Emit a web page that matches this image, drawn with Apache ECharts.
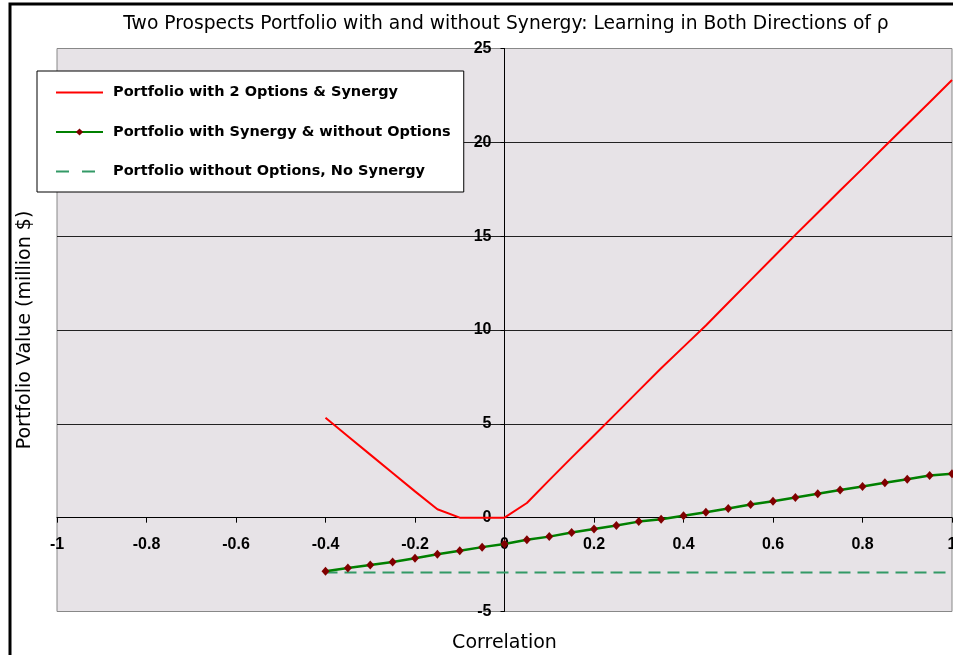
<!DOCTYPE html>
<html>
<head>
<meta charset="utf-8">
<script src="https://cdn.jsdelivr.net/npm/echarts@6/dist/echarts.min.js"></script>
<style>
  html, body { margin: 0; padding: 0; background: #fff; }
  #chart { width: 953px; height: 655px; }
</style>
</head>
<body>
<div id="chart"></div>
<script>
// Correlation coefficient (rho) grid
const correlation = [-0.4, -0.35, -0.3, -0.25, -0.2, -0.15, -0.1, -0.05, 0,
  0.05, 0.1, 0.15, 0.2, 0.25, 0.3, 0.35, 0.4, 0.45, 0.5,
  0.55, 0.6, 0.65, 0.7, 0.75, 0.8, 0.85, 0.9, 0.95, 1.0];

// Portfolio values, million $
const withOptionsSynergy = [5.32, 4.34, 3.36, 2.38, 1.40, 0.45, 0.0, 0.0, 0.0,
  0.78, 2.0, 3.2, 4.38, 5.57, 6.77, 7.96, 9.1, 10.24, 11.45,
  12.66, 13.86, 15.07, 16.25, 17.43, 18.6, 19.79, 20.96, 22.14, 23.32];

const synergyNoOptions = [-2.85, -2.68, -2.52, -2.36, -2.16, -1.95, -1.76, -1.57, -1.40,
  -1.18, -1.01, -0.79, -0.60, -0.42, -0.21, -0.08, 0.10, 0.29, 0.49,
  0.70, 0.88, 1.07, 1.27, 1.47, 1.66, 1.86, 2.05, 2.25, 2.34];

const noOptionsNoSynergy = [-2.92, -2.92, -2.92, -2.92, -2.92, -2.92, -2.92, -2.92, -2.92,
  -2.92, -2.92, -2.92, -2.92, -2.92, -2.92, -2.92, -2.92, -2.92, -2.92,
  -2.92, -2.92, -2.92, -2.92, -2.92, -2.92, -2.92, -2.92, -2.92, -2.92];

const seriesNames = [
  'Portfolio with 2 Options & Synergy',
  'Portfolio with Synergy & without Options',
  'Portfolio without Options, No Synergy'
];

const xTicks = { min: -1, max: 1, interval: 0.2 };
const yTicks = { min: -5, max: 25, interval: 5 };

const pairs = (ys) => correlation.map((x, i) => [x, ys[i]]);

// Plot rectangle
const GRID = { left: 57, top: 48.5, width: 895, height: 563 };

// The axes cross at the origin: shift each axis from the grid edge to the zero line.
const xAxisOffset = -(0 - yTicks.min) / (yTicks.max - yTicks.min) * GRID.height;
const yAxisOffset = -(0 - xTicks.min) / (xTicks.max - xTicks.min) * GRID.width;

const SANS = '"Liberation Sans", Arial, sans-serif';
const WIDE = '"DejaVu Sans", Verdana, sans-serif';

const chart = echarts.init(document.getElementById('chart'), null, { renderer: 'canvas' });

chart.setOption({
  backgroundColor: '#ffffff',
  animation: false,
  title: {
    text: 'Two Prospects Portfolio with and without Synergy: Learning in Both Directions of \u03C1',
    left: 501,
    top: 10,
    textAlign: 'center',
    textStyle: { fontFamily: WIDE, fontSize: 18.7, fontWeight: 'normal', color: '#000' }
  },
  graphic: [{
    type: 'rect',
    silent: true,
    z: 100,
    shape: { x: 10, y: 4, width: 1000, height: 700 },
    style: { fill: 'none', stroke: '#000', lineWidth: 3 }
  }],
  legend: {
    orient: 'vertical',
    left: 37,
    top: 71,
    backgroundColor: '#ffffff',
    borderColor: '#000',
    borderWidth: 1,
    padding: [14, 13, 13, 18],
    itemWidth: 47,
    itemHeight: 9,
    itemGap: 24.5,
    textStyle: { fontFamily: WIDE, fontSize: 14.5, fontWeight: 'bold', color: '#000', padding: [0, 0, 0, 5] },
    data: [
      { name: seriesNames[0], itemStyle: { opacity: 0 } },
      { name: seriesNames[1] },
      { name: seriesNames[2], itemStyle: { opacity: 0 }, lineStyle: { type: [13, 13] } }
    ]
  },
  grid: {
    left: GRID.left,
    top: GRID.top,
    width: GRID.width,
    height: GRID.height,
    outerBoundsMode: 'none',
    containLabel: false,
    show: true,
    backgroundColor: '#e7e3e7',
    borderColor: '#888888',
    borderWidth: 1
  },
  xAxis: {
    type: 'value',
    min: xTicks.min,
    max: xTicks.max,
    interval: xTicks.interval,
    offset: xAxisOffset,
    name: 'Correlation',
    nameLocation: 'middle',
    nameGap: 116,
    nameTextStyle: { fontFamily: WIDE, fontSize: 19, color: '#000' },
    axisLine: { onZero: false, lineStyle: { color: '#000', width: 1 } },
    axisTick: { show: true, inside: false, length: 5, lineStyle: { color: '#000' } },
    axisLabel: {
      margin: 19,
      fontFamily: SANS, fontSize: 16, fontWeight: 'bold', color: '#000',
      showMinLabel: true, showMaxLabel: true,
      formatter: (v) => String(Math.round(v * 10) / 10)
    },
    splitLine: { show: false }
  },
  yAxis: {
    type: 'value',
    min: yTicks.min,
    max: yTicks.max,
    interval: yTicks.interval,
    offset: yAxisOffset,
    name: 'Portfolio Value (million $)',
    nameLocation: 'middle',
    nameGap: 470,
    nameRotate: 90,
    nameTextStyle: { fontFamily: WIDE, fontSize: 19, color: '#000' },
    axisLine: { show: true, onZero: false, lineStyle: { color: '#000', width: 1 } },
    axisTick: { show: true, inside: false, length: 4, lineStyle: { color: '#000' } },
    axisLabel: {
      margin: 13,
      fontFamily: SANS, fontSize: 16, fontWeight: 'bold', color: '#000'
    },
    splitLine: { show: true, showMinLine: false, showMaxLine: false, lineStyle: { color: '#222', width: 1 } }
  },
  series: [
    {
      name: seriesNames[0],
      type: 'line',
      data: pairs(withOptionsSynergy),
      symbol: 'none',
      lineStyle: { color: '#ff0000', width: 2 },
      itemStyle: { color: '#ff0000' },
      z: 4
    },
    {
      name: seriesNames[1],
      type: 'line',
      data: pairs(synergyNoOptions),
      symbol: 'diamond',
      symbolSize: [8, 9],
      lineStyle: { color: '#008000', width: 2.5 },
      itemStyle: { color: '#800000' },
      z: 3
    },
    {
      name: seriesNames[2],
      type: 'line',
      data: pairs(noOptionsNoSynergy),
      symbol: 'none',
      lineStyle: { color: '#339966', width: 2, type: [12, 7] },
      itemStyle: { color: '#339966' },
      z: 2
    }
  ]
});
</script>
</body>
</html>
